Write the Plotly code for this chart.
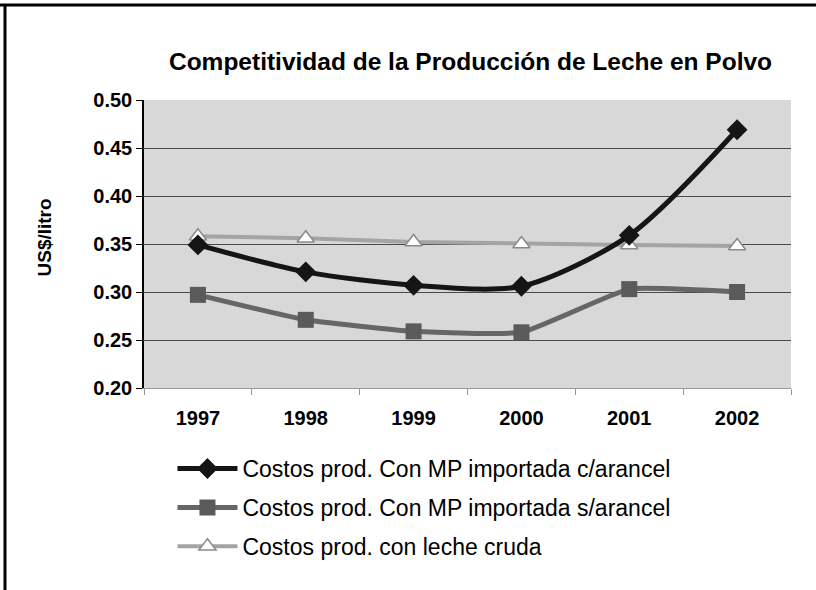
import plotly.graph_objects as go

years = ["1997", "1998", "1999", "2000", "2001", "2002"]
con_arancel = [0.349, 0.321, 0.307, 0.306, 0.359, 0.469]
sin_arancel = [0.297, 0.271, 0.259, 0.258, 0.303, 0.300]
leche_cruda = [0.358, 0.356, 0.352, 0.350, 0.349, 0.348]
names = [
    "Costos prod. Con MP importada c/arancel",
    "Costos prod. Con MP importada s/arancel",
    "Costos prod. con leche cruda",
]
y_ticks = [0.20, 0.25, 0.30, 0.35, 0.40, 0.45, 0.50]

FONT = "Liberation Sans, Arial, sans-serif"

fig = go.Figure()
fig.add_trace(go.Scatter(
    x=years, y=leche_cruda, name=names[2], mode="lines+markers",
    line=dict(color="#a4a4a4", width=4),
    marker=dict(symbol="triangle-up", size=15, color="white",
                line=dict(color="#8a8a8a", width=1.5)),
    legendgroup="c", legendrank=3,
))
fig.add_trace(go.Scatter(
    x=years, y=sin_arancel, name=names[1], mode="lines+markers",
    line=dict(color="#666666", width=5, shape="spline", smoothing=0.4),
    marker=dict(symbol="square", size=16, color="#5a5a5a"),
    legendgroup="b", legendrank=2,
))
fig.add_trace(go.Scatter(
    x=years, y=con_arancel, name=names[0], mode="lines+markers",
    line=dict(color="#151515", width=5, shape="spline", smoothing=0.8),
    marker=dict(symbol="diamond", size=16, color="#151515"),
    legendgroup="a", legendrank=1,
))

fig.update_layout(
    width=816, height=590,
    margin=dict(l=144, r=25, t=100, b=202),
    paper_bgcolor="white",
    plot_bgcolor="#d8d8d8",
    font=dict(family=FONT, color="black"),
    title=dict(
        text="<b>Competitividad de la Producción de Leche en Polvo</b>",
        x=470.5 / 816, xref="container", xanchor="center",
        y=1 - 61 / 590, yref="container", yanchor="middle",
        font=dict(size=24.5, family=FONT, color="black"),
    ),
    showlegend=True,
    legend=dict(
        x=0.044, xanchor="left", y=-0.205, yanchor="top",
        orientation="v", traceorder="grouped", tracegroupgap=6,
        font=dict(size=23, family=FONT, color="black"),
        itemwidth=60, bgcolor="rgba(0,0,0,0)",
    ),
    xaxis=dict(
        type="category", range=[-0.5, 5.5],
        tickson="boundaries", ticks="outside", ticklen=6,
        tickcolor="#999999", showline=True, linecolor="#999999", linewidth=1,
        showgrid=False, tickfont=dict(size=20, family=FONT, color="black"),
        tickprefix="<b>", ticksuffix="</b>", ticklabelstandoff=12,
    ),
    yaxis=dict(
        range=[0.20, 0.50], tickvals=y_ticks,
        ticktext=[f"<b>{v:.2f}</b>" for v in y_ticks],
        ticks="outside", ticklen=6, tickcolor="black",
        showline=True, linecolor="black", linewidth=1.5,
        showgrid=True, gridcolor="#4a4a4a", gridwidth=1,
        zeroline=False, tickfont=dict(size=20, family=FONT, color="black"),
    ),
    annotations=[dict(
        text="<b>US$/litro</b>", textangle=-90,
        xref="paper", yref="paper", x=(44 - 144) / 647, y=(387.5 - 237) / 288,
        xanchor="center", yanchor="middle", showarrow=False,
        font=dict(size=19, family=FONT, color="black"),
    )],
    shapes=[
        dict(type="line", xref="paper", yref="paper",
             x0=-144/647, x1=1 + 25/647, y0=1 + 95/288, y1=1 + 95/288,
             line=dict(color="black", width=3)),
        dict(type="line", xref="paper", yref="paper",
             x0=-139/647, x1=-139/647, y0=1 + 95/288, y1=-202/288,
             line=dict(color="black", width=3)),
    ],
)

fig.write_html("out.html", config={"displayModeBar": False},
               post_script="document.body.style.margin='0';")
